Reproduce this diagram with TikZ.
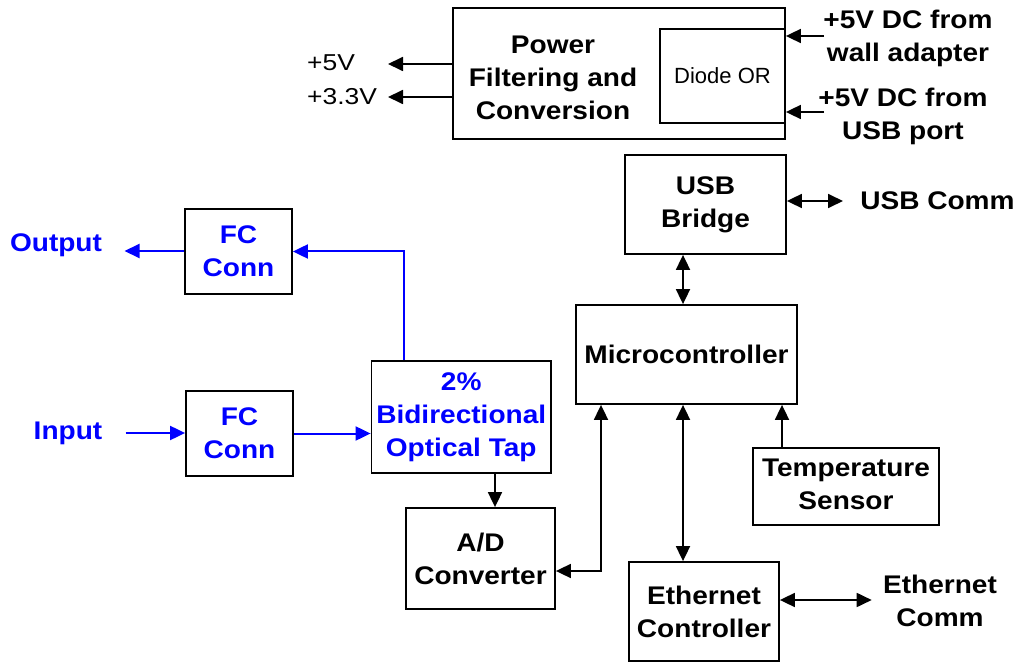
\documentclass[tikz,border=0pt]{standalone}
\usepackage{fontspec}
\setmainfont{Liberation Sans}
\newfontfamily\labfont[FakeStretch=1.1]{Liberation Sans}
\newfontfamily\regfont[FakeStretch=1.15]{Liberation Sans}
\usetikzlibrary{arrows.meta}
\definecolor{tapblue}{RGB}{0,0,255}
\tikzset{
  box/.style={draw=black, line width=1.8pt, rectangle, inner sep=0pt, align=center,
    font=\labfont\bfseries\fontsize{25.5}{33}\selectfont},
  lbl/.style={inner sep=0pt, align=center, font=\labfont\bfseries\fontsize{25.5}{33}\selectfont},
  reglbl/.style={inner sep=0pt, font=\regfont\fontsize{23}{28}\selectfont},
  blu/.style={text=tapblue},
  arr/.style={line width=1.8pt, -{Triangle[length=15pt,width=14pt]}},
  biarr/.style={line width=1.8pt, {Triangle[length=15pt,width=14pt]}-{Triangle[length=15pt,width=14pt]}},
  barr/.style={line width=2pt, draw=tapblue, -{Triangle[length=15pt,width=14pt]}, color=tapblue},
}
\begin{document}
\begin{tikzpicture}[x=1pt,y=-1pt]
\useasboundingbox (0,0) rectangle (1018,663);
% boxes
\node[box, minimum width=332pt, minimum height=131pt] (power) at (619,73.5) {};
\node[box, minimum width=125pt, minimum height=94pt, font=\fontsize{22}{26}\selectfont] (diode) at (722.5,76) {Diode OR};
\node[lbl] (powertxt) at (553,77.5) {Power\\Filtering and\\Conversion};
\node[box, blu, minimum width=107pt, minimum height=85pt] (fc1) at (238.5,251.5) {FC\\Conn};
\node[box, blu, minimum width=107pt, minimum height=85pt] (fc2) at (239.5,433.5) {FC\\Conn};
\node[box, blu, minimum width=179.5pt, minimum height=111.7pt] (tap) at (461.25,416.85) {2\%\\Bidirectional\\Optical Tap};
\node[box, minimum width=149pt, minimum height=101pt] (ad) at (480.5,558.5) {A/D\\Converter};
\node[box, minimum width=161pt, minimum height=99pt] (usb) at (705.5,204.5) {USB\\Bridge};
\node[box, minimum width=221pt, minimum height=99pt] (micro) at (686.5,354.5) {Microcontroller};
\node[box, minimum width=186pt, minimum height=77pt] (temp) at (846,486.5) {};
\node[lbl] (temptxt) at (846,484) {Temperature\\Sensor};
\node[box, minimum width=150pt, minimum height=99pt] (eth) at (704,611.5) {Ethernet\\Controller};
% labels
\node[lbl, blu] (outlbl) at (56,245) {Output};
\node[lbl, blu] (inlbl) at (68,433) {Input};
\node[reglbl, anchor=west] (v5) at (307,63) {+5V};
\node[reglbl, anchor=west] (v33) at (307,97) {+3.3V};
\node[lbl] (wall) at (908,38) {+5V DC from\\wall adapter};
\node[lbl] (usbp) at (903,116) {+5V DC from\\USB port};
\node[lbl] (usbcomm) at (937.5,201) {USB Comm};
\node[lbl] (ethcomm) at (940,601) {Ethernet\\Comm};
% free-end coordinates
\coordinate (v5tip) at (388,64);
\coordinate (v33tip) at (388,97);
\coordinate (walltail) at (824,36);
\coordinate (usbptail) at (824,112);
\coordinate (outtip) at (124.5,251);
\coordinate (intail) at (125.7,433);
\coordinate (tapup) at (404,0);
\coordinate (tapad) at (495,0);
\coordinate (adline) at (601,571);
\coordinate (usbx) at (683,0);
\coordinate (tempx) at (782,0);
\coordinate (usbcommtip) at (843,201);
\coordinate (ethcommtip) at (871.7,600);
% connectors
\draw[arr] (power.west |- v5tip) -- (v5tip);
\draw[arr] (power.west |- v33tip) -- (v33tip);
\draw[arr] (walltail) -- (walltail -| power.east);
\draw[arr] (usbptail) -- (usbptail -| power.east);
\draw[barr] (fc1.west |- outtip) -- (outtip);
\draw[barr] (tap.north -| tapup) |- (fc1.east);
\draw[barr] (intail) -- (intail -| fc2.west);
\draw[barr] (fc2.east) -- (fc2.east -| tap.west);
\draw[arr] (tap.south -| tapad) -- (ad.north -| tapad);
\draw[biarr] (ad.east |- adline) -| (micro.south -| adline);
\draw[biarr] (usb.south -| usbx) -- (micro.north -| usbx);
\draw[biarr] (micro.south -| usbx) -- (eth.north -| usbx);
\draw[arr] (temp.north -| tempx) -- (micro.south -| tempx);
\draw[biarr] (usb.east |- usbcommtip) -- (usbcommtip);
\draw[biarr] (eth.east |- ethcommtip) -- (ethcommtip);
\end{tikzpicture}
\end{document}
